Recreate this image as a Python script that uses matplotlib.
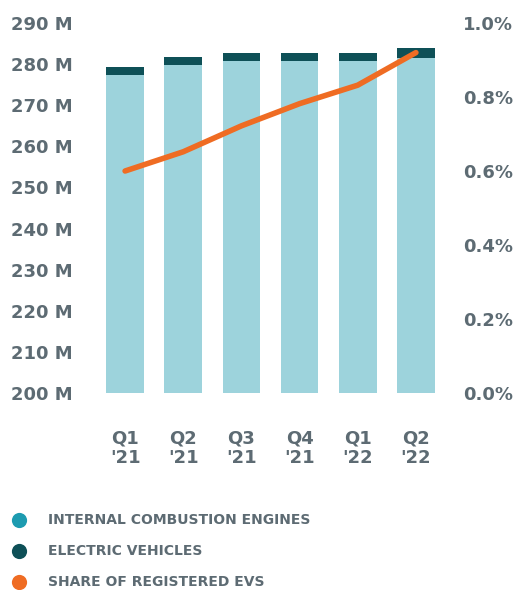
import matplotlib.pyplot as plt
import numpy as np

# values
quarters = ["Q1\n'21", "Q2\n'21", "Q3\n'21", "Q4\n'21", "Q1\n'22", "Q2\n'22"]
ice_m = [277.4, 279.9, 280.8, 280.8, 280.8, 281.5]
ev_m = [1.9, 1.8, 1.85, 1.85, 1.85, 2.3]
ev_share = [0.600, 0.652, 0.722, 0.782, 0.832, 0.920]

left_ticks = [200, 210, 220, 230, 240, 250, 260, 270, 280, 290]
right_ticks = [0.0, 0.2, 0.4, 0.6, 0.8, 1.0]

ICE_BAR = '#9dd3dc'
ICE_DOT = '#1d9bb0'
EV_COL = '#0e5057'
LINE_COL = '#ef6c23'
TXT = '#5d6b73'

plt.rcParams['font.family'] = ['DejaVu Sans']

W, H = 514, 590
fig = plt.figure(figsize=(W / 100, H / 100), dpi=100)
ax = fig.add_axes([96 / W, (H - 393) / H, (445 - 96) / W, (393 - 23) / H])

x = np.arange(len(quarters))
base = left_ticks[0]
ice_h = [v - base for v in ice_m]
ax.bar(x, ice_h, width=0.65, bottom=base, color=ICE_BAR, zorder=2)
ax.bar(x, ev_m, width=0.65, bottom=ice_m, color=EV_COL, zorder=2)
ax.set_ylim(200, 290)
ax.set_xlim(-0.5, len(quarters) - 0.5)
ax.set_yticks(left_ticks)
ax.set_yticklabels(['%d M' % t for t in left_ticks], fontweight='bold')
ax.set_xticks(x)
ax.set_xticklabels(quarters, linespacing=1.1, fontweight='bold')
# pads are in points (0.72 pt per pixel at 100 dpi)
ax.tick_params(axis='y', length=0, pad=17, labelsize=13, labelcolor=TXT)
ax.tick_params(axis='x', length=0, pad=26, labelsize=13, labelcolor=TXT)
for s in ax.spines.values():
    s.set_visible(False)

ax2 = ax.twinx()
ax2.plot(x, ev_share, color=LINE_COL, lw=4, solid_capstyle='round',
         solid_joinstyle='round', zorder=5)
ax2.set_ylim(0, 1.0)
ax2.set_yticks(right_ticks)
ax2.set_yticklabels(['%.1f%%' % t for t in right_ticks], fontweight='bold')
ax2.tick_params(axis='y', length=0, pad=13, labelsize=13, labelcolor=TXT)
for s in ax2.spines.values():
    s.set_visible(False)

# legend drawn by hand in figure coordinates
legend_items = [(ICE_DOT, 'INTERNAL COMBUSTION ENGINES'),
                (EV_COL, 'ELECTRIC VEHICLES'),
                (LINE_COL, 'SHARE OF REGISTERED EVS')]
lax = fig.add_axes([0, 0, 1, 1], zorder=-1)
lax.set_xlim(0, W)
lax.set_ylim(H, 0)
lax.axis('off')
for i, (c, label) in enumerate(legend_items):
    yy = 520 + 31 * i
    lax.scatter([19], [yy], s=120, color=c, clip_on=False, linewidths=0)
    lax.text(48, yy, label, color=TXT, fontsize=10, ha='left', va='center',
             fontweight='bold')

fig.savefig('out.png', dpi=100)
